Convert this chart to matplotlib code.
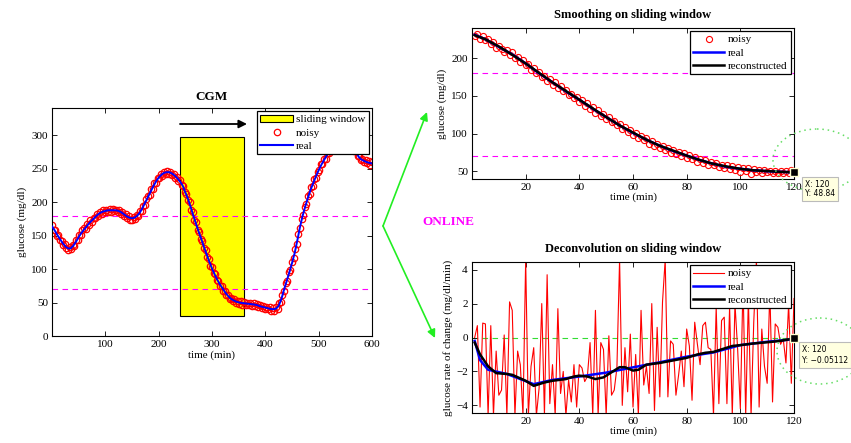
import numpy as np
import matplotlib
matplotlib.use("Agg")
import matplotlib.pyplot as plt
from matplotlib.patches import Rectangle, Patch, Ellipse
from matplotlib.lines import Line2D

plt.rcParams['font.family'] = ['Liberation Serif', 'DejaVu Serif']
plt.rcParams['axes.linewidth'] = 0.8

# ---- CGM, whole day (real every 5 min, noisy every 3 min)
cgm_t = np.arange(0, 601, 5)
cgm_real = [164, 158, 151, 145, 139, 134, 131, 131, 135, 141,
            148, 154, 159, 164, 169, 173, 177, 181, 184, 186,
            187, 188, 188, 188, 188, 187, 185, 182, 179, 177,
            176, 177, 180, 185, 192, 200, 208, 216, 224, 231,
            237, 241, 244, 245, 245, 243, 240, 236, 231, 225,
            215, 205, 193, 180, 168, 156, 145, 133, 122, 111,
            101, 92, 84, 77, 71, 65, 60, 56, 53.5, 51.5,
            50.3, 49.5, 49, 48.5, 48, 47.5, 47, 46, 44.5, 43.5,
            42.5, 41.5, 40.5, 40, 41, 45, 55, 69, 82, 95,
            109, 124, 143, 163, 180, 194, 207, 219, 229, 239,
            248, 256, 263, 270, 276, 281, 285, 288, 290, 291,
            291, 290, 287, 282, 275, 268, 264, 262, 260, 259,
            258]
noisy_t = np.arange(0, 601, 3)
cgm_noisy = [166, 159, 158, 150, 151, 143, 142, 136, 137, 131,
             129, 133, 130, 136, 135, 143, 143, 151, 151, 158,
             161, 160, 167, 166, 173, 171, 177, 176, 182, 180,
             186, 183, 188, 185, 189, 186, 190, 186, 190, 187,
             189, 185, 188, 183, 186, 180, 182, 177, 179, 174,
             174, 178, 175, 181, 180, 187, 187, 195, 196, 205,
             210, 211, 220, 220, 229, 229, 237, 236, 242, 240,
             246, 243, 247, 243, 246, 241, 243, 237, 238, 232,
             233, 226, 225, 215, 213, 203, 200, 189, 185, 173,
             170, 159, 156, 145, 142, 131, 128, 118, 115, 105,
             103, 94, 92, 84, 83, 75, 75, 68, 68, 61,
             62, 56, 57, 52, 55, 50, 53, 48, 52, 47,
             51, 47, 50, 46, 50, 45, 49, 45, 48, 43,
             46, 42, 45, 41, 44, 40, 43, 38, 42, 38,
             43, 41, 49, 51, 62, 67, 79, 83, 95, 99,
             111, 116, 130, 137, 153, 161, 175, 181, 193, 197,
             209, 212, 223, 225, 235, 237, 246, 248, 257, 257,
             265, 265, 273, 273, 280, 279, 285, 283, 289, 287,
             292, 289, 293, 289, 293, 288, 290, 284, 285, 277,
             277, 269, 269, 263, 265, 260, 263, 258, 261, 256,
             260]
win_start, win_end = 240, 360
win_low, win_high = 30, 297
hypo, hyper = 70, 180

# ---- sliding window: glucose
win_t = np.arange(1, 121)
win_noisy = [230, 232, 226, 229, 224, 225, 219, 221, 214, 216,
             212, 208, 211, 204, 208, 200, 202, 195, 198, 191,
             192, 185, 187, 180, 182, 175, 177, 170, 172, 165,
             168, 160, 163, 156, 158, 151, 153, 147, 149, 142,
             144, 137, 140, 133, 135, 128, 131, 124, 126, 119,
             122, 115, 117, 111, 113, 106, 109, 102, 105, 98,
             101, 94, 97, 91, 94, 87, 90, 84, 87, 81,
             84, 79, 81, 75, 79, 73, 76, 70, 74, 68,
             72, 66, 69, 63, 67, 61, 65, 59, 63, 58,
             61, 56, 59, 54, 58, 53, 57, 52, 56, 49,
             55, 50, 54, 47, 53, 49, 52, 48, 52, 49,
             51, 48, 51, 48, 50, 48, 51, 48, 52, 49]
smooth_t = [1, 5, 10, 15, 20, 25, 30, 35, 40, 45, 50, 55, 60,
            65, 70, 75, 80, 85, 90, 95, 100, 105, 110, 115, 120]
smooth_real = [231, 225, 215, 205, 193, 180, 168, 156, 145, 133, 122, 111, 101,
               92, 84, 77, 71, 65, 60, 56, 53.5, 51.5, 50.3, 49.5, 48.84]
smooth_rec = [230.5, 225, 215.5, 204.5, 193, 180.5, 168, 156.5, 145, 133.5, 122, 111, 101.5,
              92, 84, 77.5, 71, 65, 60, 56.5, 53.5, 51.5, 50.5, 49.5, 48.84]

# ---- sliding window: rate of change
rate_noisy = [0.0, 0.7, -4.1, 0.85, 0.8, -4.6, 0.7, -4.6, -0.8, -3.4,
              -3.1, 0.15, -4.6, 2.1, 1.6, -4.6, -0.8, -1.6, -4.6, 4.6,
              -4.6, -1.7, -0.6, -4.6, -3.0, 2.0, -4.6, 3.7, -3.9, -1.6,
              -4.6, 1.7, -3.3, -2.0, -4.6, -2.5, -3.8, -1.6, -4.1, -1.6,
              -1.8, -2.6, -2.3, -0.3, -4.6, 1.6, -4.6, -0.3, -0.7, -4.6,
              0.1, -3.4, -3.1, -1.8, 4.6, -4.0, -0.6, -3.2, 0.2, -4.1,
              -1.0, -4.6, 1.6, -2.8, -1.7, -3.3, 2.0, -4.3, 0.6, -3.5,
              2.1, 4.6, -3.5, -0.2, -0.4, -3.4, -2.2, -0.8, -2.9, 0.5,
              -0.5, -3.7, 0.9, -0.4, -1.6, 0.7, 0.9, -0.6, -0.7, -4.6,
              1.8, -3.9, 1.0, 1.2, -3.9, 1.8, -4.6, 2.0, -0.7, -4.2,
              3.2, -4.6, 2.3, -4.6, 0.9, 4.6, -4.1, 0.5, -1.7, -2.7,
              2.8, -3.8, 0.8, 0.6, -0.4, -0.1, -1.5, 2.0, -2.7, 2.3]
rate_real_t = [1, 3, 6, 13, 23, 30, 40, 50, 60, 70, 80, 90, 100, 110, 120]
rate_real = [-0.2, -1.33, -1.9, -2.15, -2.75, -2.5, -2.3, -2.07, -1.76,
             -1.46, -1.13, -0.88, -0.45, -0.25, -0.1]
rate_rec_t = [1, 3, 6, 9, 13, 15, 20, 23, 27, 30, 35, 38, 40, 43, 46, 49,
              52, 55, 57, 60, 62, 65, 70, 75, 80, 84, 87, 90, 93, 97,
              100, 105, 110, 115, 120]
rate_rec = [-0.3, -1.0, -1.7, -2.1, -2.15, -2.2, -2.55, -2.85, -2.65, -2.55,
            -2.45, -2.3, -2.25, -2.3, -2.45, -2.35, -2.05, -1.75, -1.75, -1.95,
            -1.9, -1.6, -1.5, -1.35, -1.2, -1.0, -0.9, -0.85, -0.7, -0.5,
            -0.45, -0.35, -0.28, -0.2, -0.05112]

W, H = 851, 443
fig = plt.figure(figsize=(W / 100, H / 100), dpi=100)


def px_axes(x0, y0, x1, y1):
    return fig.add_axes([x0 / W, 1 - y1 / H, (x1 - x0) / W, (y1 - y0) / H])


def style(ax):
    ax.tick_params(direction='in', top=True, right=True, length=3.5,
                   width=0.6, labelsize=8, pad=3)


def boxed_legend(ax, *args, hl=2.8):
    leg = ax.legend(*args, loc='upper right', fontsize=8, fancybox=False,
                    framealpha=1, edgecolor='k', borderaxespad=0.3,
                    handlelength=hl, handletextpad=0.3, labelspacing=0.32,
                    borderpad=0.3)
    leg.get_frame().set_linewidth(0.9)
    leg.set_zorder(5)
    return leg


# left: CGM
ax1 = px_axes(52, 108, 372, 336)
ax1.add_patch(Rectangle((win_start, win_low), win_end - win_start, win_high - win_low,
                        facecolor='yellow', edgecolor='k', lw=0.8, zorder=1))
ax1.plot(noisy_t, cgm_noisy, 'o', mfc='none', mec='red', ms=4.6, mew=0.9, zorder=2)
ax1.plot(cgm_t, cgm_real, color='blue', lw=1.4, zorder=3)
for lvl in (hypo, hyper):
    ax1.axhline(lvl, color='magenta', ls=(0, (5, 4)), lw=0.8, zorder=1.5)
ax1.set_xlim(0, 600)
ax1.set_ylim(0, 341)
ax1.set_xticks([100, 200, 300, 400, 500, 600])
ax1.set_yticks(np.arange(0, 301, 50))
ax1.set_xlabel('time (min)', fontsize=8, labelpad=1)
ax1.set_ylabel('glucose (mg/dl)', fontsize=8, labelpad=3)
ax1.set_title('CGM', fontsize=9.5, fontweight='bold', pad=6)
style(ax1)
h1 = [Patch(facecolor='yellow', edgecolor='k', lw=0.8),
      Line2D([], [], marker='o', ls='none', mfc='none', mec='red', ms=4.6, mew=0.9),
      Line2D([], [], color='blue', lw=1.5)]
boxed_legend(ax1, h1, ['sliding window', 'noisy', 'real'], hl=2.9)

# top right: smoothing
ax2 = px_axes(472, 28, 794, 179)
ax2.plot(win_t, win_noisy, 'o', mfc='none', mec='red', ms=4.4, mew=0.8, label='noisy')
ax2.plot(smooth_t, smooth_real, color='blue', lw=1.8, label='real')
ax2.plot(smooth_t, smooth_rec, color='black', lw=1.8, label='reconstructed')
for lvl in (hypo, hyper):
    ax2.axhline(lvl, color='magenta', ls=(0, (5, 4)), lw=0.8, zorder=1.5)
ax2.set_xlim(0, 120)
ax2.set_ylim(40, 240)
ax2.set_xticks([20, 40, 60, 80, 100, 120])
ax2.set_yticks([50, 100, 150, 200])
ax2.set_xlabel('time (min)', fontsize=8, labelpad=0)
ax2.set_ylabel('glucose (mg/dl)', fontsize=8, labelpad=3)
ax2.set_title('Smoothing on sliding window', fontsize=9, fontweight='bold', pad=7)
style(ax2)
boxed_legend(ax2)
ax2.plot([120], [smooth_rec[-1]], 's', color='black', mec='#ffffd0', ms=6,
         mew=1, clip_on=False, zorder=10)

# bottom right: deconvolution
ax3 = px_axes(472, 262, 794, 413)
ax3.plot(win_t, rate_noisy, color='red', lw=0.8, label='noisy')
ax3.plot(rate_real_t, rate_real, color='blue', lw=1.8, label='real')
ax3.plot(rate_rec_t, rate_rec, color='black', lw=1.8, label='reconstructed')
ax3.axhline(0, color='#33dd33', ls=(0, (5, 4)), lw=0.8, zorder=1.5)
ax3.set_xlim(0, 120)
ax3.set_ylim(-4.45, 4.45)
ax3.set_xticks([20, 40, 60, 80, 100, 120])
ax3.set_yticks([-4, -2, 0, 2, 4])
ax3.set_xlabel('time (min)', fontsize=8, labelpad=0)
ax3.set_ylabel('glucose rate of change (mg/dl/min)', fontsize=8, labelpad=2)
ax3.set_title('Deconvolution on sliding window', fontsize=9, fontweight='bold', pad=7)
style(ax3)
boxed_legend(ax3)
ax3.plot([120], [rate_rec[-1]], 's', color='black', mec='#ffffd0', ms=6,
         mew=1, clip_on=False, zorder=10)

# overlay in pixel coordinates for arrows, notes and data tips
ov = fig.add_axes([0, 0, 1, 1], zorder=10)
ov.set_xlim(0, W)
ov.set_ylim(H, 0)
ov.axis('off')
ov.patch.set_alpha(0)

ov.annotate('', xy=(247, 124), xytext=(180, 124),
            arrowprops=dict(arrowstyle='-|>', color='black', lw=1.3,
                            mutation_scale=12, shrinkA=0, shrinkB=0))
green = '#22ee22'
for tip in [(427, 112), (435, 338)]:
    ov.annotate('', xy=tip, xytext=(383, 226),
                arrowprops=dict(arrowstyle='-|>', color=green, lw=1.2,
                                mutation_scale=12, shrinkA=0, shrinkB=0))
ov.text(448, 222, 'ONLINE', color='magenta', fontsize=9.5, fontweight='bold',
        ha='center', va='center')

ov.add_patch(Ellipse((817, 160), 88, 62, fill=False, ls=(0, (1, 2.5)),
                     ec='#66dd66', lw=1.1))
ov.add_patch(Ellipse((820, 351), 86, 66, fill=False, ls=(0, (1, 2.5)),
                     ec='#66dd66', lw=1.1))

tip_box = dict(boxstyle='square,pad=0.35', fc='#ffffe0', ec='#bbbbbb', lw=0.8)
ov.text(805, 189, 'X: 120\nY: 48.84', family='DejaVu Sans', fontsize=5.5,
        va='center', ha='left', linespacing=1.1, bbox=tip_box)
ov.text(802, 355, 'X: 120\nY: \u22120.05112', family='DejaVu Sans', fontsize=5.5,
        va='center', ha='left', linespacing=1.3, bbox=tip_box)

fig.savefig('out.png', dpi=100)
